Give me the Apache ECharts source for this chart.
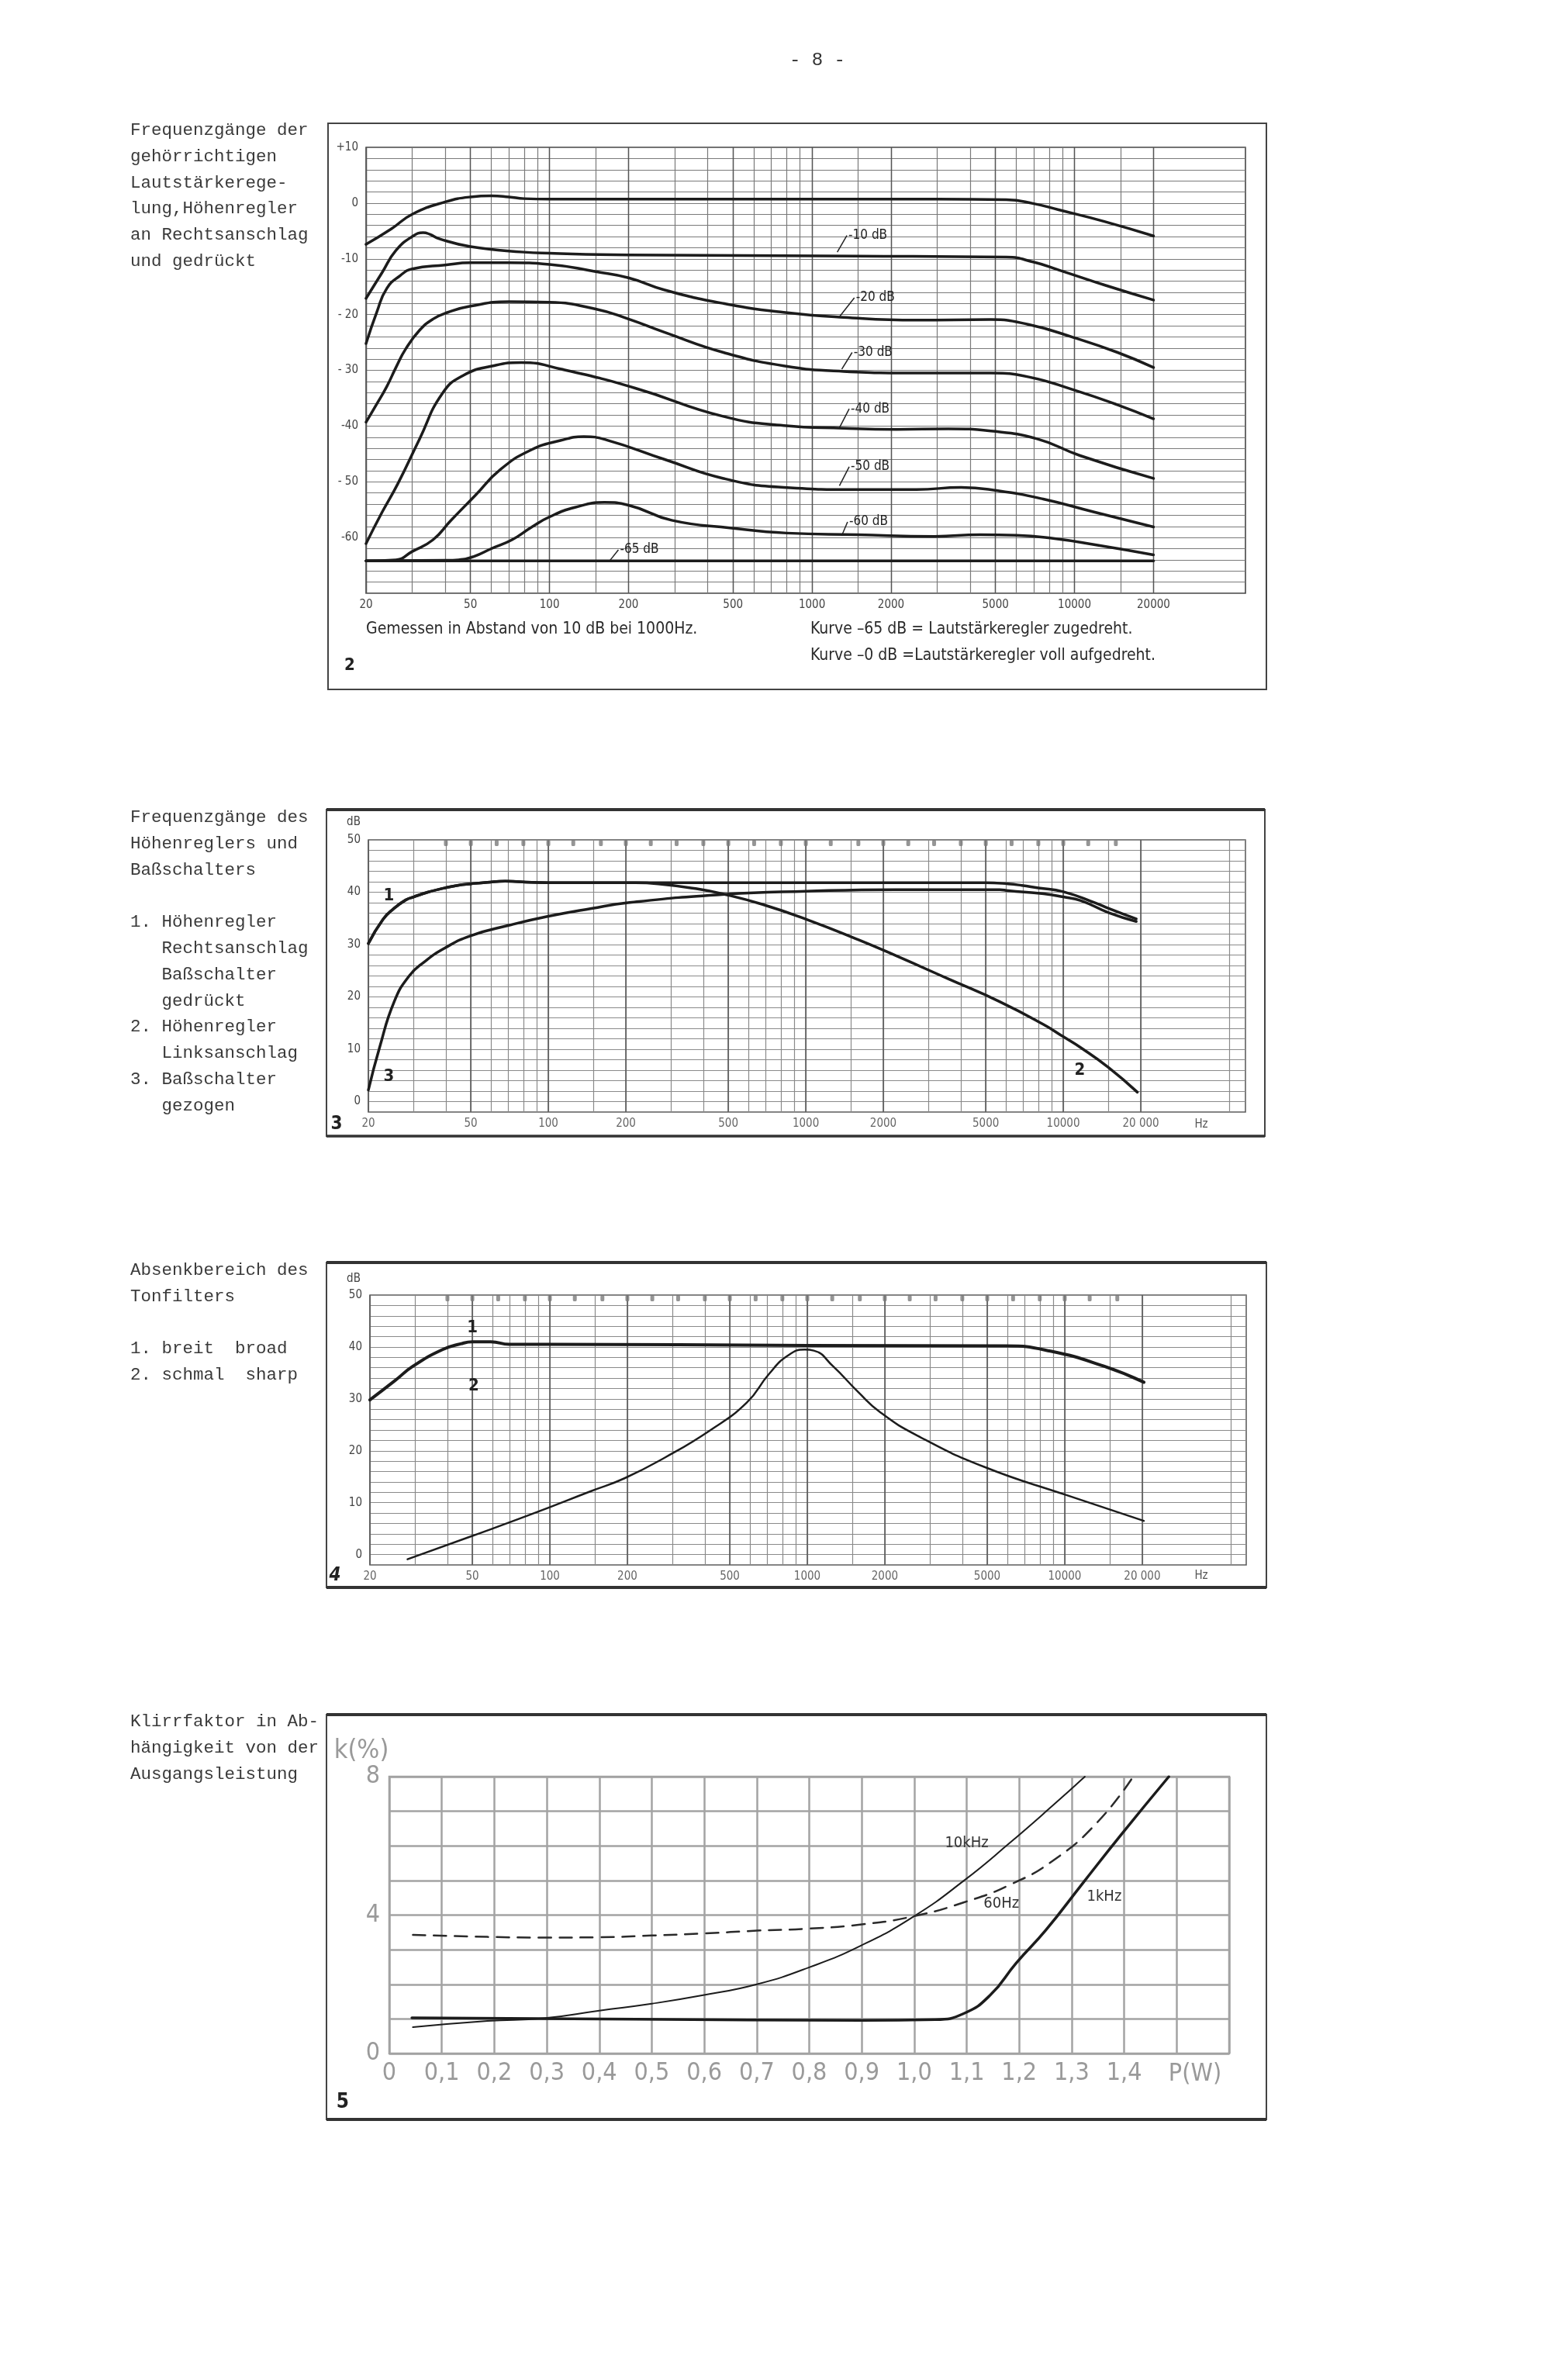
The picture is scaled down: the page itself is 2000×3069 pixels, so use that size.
<!DOCTYPE html>
<html>
<head>
<meta charset="utf-8">
<title>Seite 8</title>
<script src="https://cdn.jsdelivr.net/npm/echarts@6/dist/echarts.min.js"></script>
<style>
html, body { margin: 0; padding: 0; background: #fff; }
#page { width: 2000px; height: 3069px; }
</style>
</head>
<body>
<div id="page"></div>
<script>
// Bild 2 - gehoerrichtige Lautstaerkeregelung (Hz, dB)
var VOL_0 = [[20,-7.4],[25,-4.6],[30,-2.0],[40,0.2],[50,1.1],[60,1.3],[70,1.1],[80,0.8],[100,0.7],[1000,0.7],[3000,0.7],[5500,0.6],[7000,-0.1],[8700,-1.2],[13000,-3.3],[20000,-5.9]];
var VOL_10 = [[20,-17.1],[23,-12.5],[26,-8.5],[30,-6.0],[33,-5.3],[35,-5.6],[38,-6.4],[50,-7.8],[80,-8.8],[100,-9.0],[200,-9.3],[1500,-9.5],[5500,-9.7],[7000,-10.6],[8700,-12.0],[13000,-14.7],[20000,-17.4]];
var VOL_20 = [[20,-25.2],[22,-19.5],[24,-15.3],[27,-13.0],[30,-11.8],[40,-11.1],[50,-10.7],[70,-10.7],[100,-11.0],[150,-12.3],[200,-13.4],[275,-15.6],[460,-18.0],[780,-19.6],[1320,-20.5],[2500,-21.0],[4800,-20.9],[6700,-21.8],[9900,-24.1],[14600,-26.8],[20000,-29.5]];
var VOL_30 = [[20,-39.3],[22,-36.0],[24,-32.9],[26,-29.5],[28.3,-26.2],[32,-22.8],[36,-20.8],[41,-19.6],[50,-18.5],[70,-17.7],[100,-17.8],[150,-19.0],[200,-20.8],[275,-23.2],[460,-26.8],[780,-29.2],[1320,-30.2],[2500,-30.5],[4800,-30.5],[6700,-31.2],[9900,-33.5],[14600,-36.2],[20000,-38.7]];
var VOL_40 = [[20,-61.1],[23,-55.5],[26.4,-50.4],[32,-42.3],[39,-34.2],[47,-30.9],[61,-29.2],[78,-28.6],[111,-29.8],[212,-33.2],[462,-38.3],[781,-39.9],[1320,-40.4],[2100,-40.6],[3300,-40.5],[4800,-40.9],[7200,-42.3],[10500,-45.3],[20000,-49.4]];
var VOL_50 = [[20,-64.2],[26,-64.0],[30,-62.5],[36,-60.4],[42,-57.0],[52,-52.5],[65,-47.8],[85,-44.3],[110,-42.6],[135,-41.9],[165,-42.5],[275,-46.0],[460,-49.4],[780,-51.0],[1500,-51.4],[2500,-51.4],[3700,-51.0],[5100,-51.6],[7600,-53.1],[11800,-55.4],[20000,-58.1]];
var VOL_60 = [[20,-64.2],[40,-64.1],[45,-64.0],[51.5,-63.4],[60,-62.0],[72,-60.4],[85,-58.2],[100,-56.3],[125,-54.6],[162,-53.7],[200,-54.2],[292,-56.9],[494,-58.3],[800,-59.2],[1490,-59.5],[2930,-59.8],[4370,-59.5],[6000,-59.6],[8400,-60.2],[12000,-61.3],[20000,-63.1]];
var VOL_65 = [[20,-64.2],[20000,-64.2]];
var VOL_TAGS = ['-10 dB','-20 dB','-30 dB','-40 dB','-50 dB','-60 dB','-65 dB'];
var VOL_TAG_FROM = [[1248,-8.8],[1272,-20.4],[1298,-29.8],[1272,-40.3],[1272,-50.7],[1297,-59.7],[170,-64.1]];
var VOL_TAG_TO = [[1358,-5.8],[1450,-17.0],[1422,-26.8],[1386,-36.9],[1386,-47.3],[1366,-57.2],[183,-62.2]];

// Bild 3 - Hoehenregler und Bassschalter
var TREBLE_R = [[20,30.2],[22.8,34.8],[25,36.8],[27.9,38.5],[30,39.1],[34,40.0],[39.5,40.8],[44.4,41.3],[50,41.6],[58,41.9],[68,42.1],[86,41.9],[112,41.8],[500,41.8],[2000,41.8],[5000,41.8],[6100,41.6],[6900,41.3],[8000,40.8],[10000,40.1],[13400,37.9],[15000,36.9],[19200,34.9]];
var TREBLE_L = [[20,30.2],[22.8,34.8],[25,36.8],[27.9,38.5],[30,39.1],[34,40.0],[39.5,40.8],[44.4,41.3],[50,41.6],[58,41.9],[68,42.1],[86,41.9],[112,41.8],[218,41.8],[267,41.6],[372,40.7],[484,39.6],[676,37.7],[1007,34.8],[1603,30.9],[2233,27.9],[3557,23.5],[5660,19.1],[8400,14.7],[10000,12.4],[11700,10.3],[15000,6.5],[19400,1.8]];
var BASS_OFF = [[20,2.2],[22.1,10.3],[25.2,19.1],[28.8,24.0],[33,26.7],[39.5,29.3],[50,31.7],[70.6,33.7],[100,35.4],[147,36.9],[204,38.0],[484,39.6],[1007,40.2],[2233,40.5],[5660,40.5],[6100,40.3],[8400,39.7],[10000,39.1],[11700,38.4],[15000,36.1],[19200,34.4]];
var FIG3_TAGS = ['1','2','3'];
var FIG3_TAG_AT = [[24,39.3],[11600,6.0],[24,4.7]];

// Bild 4 - Tonfilter
var FILTER_BROAD = [[20,29.8],[25,33.5],[29.4,36.3],[38.3,39.5],[45,40.6],[50,41.0],[59,41.0],[69.6,40.5],[100,40.5],[1000,40.3],[5900,40.2],[8800,39.2],[14200,36.3],[20300,33.2]];
var FILTER_SHARP = [[28,-0.9],[50,3.6],[85,7.8],[144,12.2],[195,14.7],[280,18.7],[418,23.9],[582,29.3],[710,34.8],[838,38.3],[977,39.5],[1060,39.3],[1258,36.3],[1578,31.3],[1922,27.4],[2680,22.9],[4866,16.9],[10100,11.5],[20280,6.5]];
var FIG4_TAGS = ['1','2'];
var FIG4_TAG_AT = [[50,43.7],[50.6,32.5]];

// Terzmarken am oberen Rand des Registrierpapiers (Bild 3 und 4)
var THIRD_OCTAVE = [40,50,63,80,100,125,160,200,250,315,400,500,630,800,1000,1250,1600,2000,2500,3150,4000,5000,6300,8000,10000,12500,16000];

// Bild 5 - Klirrfaktor (P in W, k in %)
var K_10KHZ = [[0.045,0.76],[0.187,0.94],[0.294,1.02],[0.4,1.24],[0.5,1.44],[0.6,1.69],[0.7,2.0],[0.8,2.49],[0.9,3.13],[1.0,3.97],[1.095,5.0],[1.18,6.06],[1.265,7.18],[1.325,8.0]];
var K_60HZ = [[0.045,3.43],[0.187,3.37],[0.3,3.35],[0.4,3.36],[0.5,3.41],[0.6,3.47],[0.7,3.55],[0.8,3.61],[0.9,3.73],[1.0,3.97],[1.095,4.37],[1.18,4.86],[1.265,5.58],[1.35,6.70],[1.417,8.0]];
var K_1KHZ = [[0.043,1.03],[0.47,0.99],[0.9,0.96],[1.04,0.98],[1.095,1.16],[1.145,1.69],[1.194,2.61],[1.251,3.57],[1.322,4.94],[1.393,6.30],[1.485,8.0]];
var FIG5_TAGS = ['10kHz','60Hz','1kHz'];
var FIG5_TAG_AT = [[1.10,6.08],[1.166,4.33],[1.362,4.52]];

// Achsen
var FREQ_GRID = [20,30,40,50,60,70,80,90,100,150,200,300,400,500,600,700,800,900,1000,1500,2000,3000,4000,5000,6000,7000,8000,9000,10000,15000,20000];
var FREQ_GRID_STRIP = FREQ_GRID.concat([44100]);
var FREQ_MAJOR = [20,50,100,200,500,1000,2000,5000,10000,20000];
var FREQ_LABELS_2 = ['20','50','100','200','500','1000','2000','5000','10000','20000'];
var FREQ_LABELS_3 = ['20','50','100','200','500','1000','2000','5000','10000','20 000'];
var FREQ_LABELS_4 = ['20','50','100','200','500','1000','2000','5000','10000','20 000'];
var DB2_TICKS = [10,0,-10,-20,-30,-40,-50,-60];
var DB2_LABELS = ['+10','0','-10','- 20','- 30','-40','- 50','-60'];
var DB34_TICKS = [0,10,20,30,40,50];
var DB34_LABELS = ['0','10','20','30','40','50'];
var P_TICKS = [0,0.1,0.2,0.3,0.4,0.5,0.6,0.7,0.8,0.9,1.0,1.1,1.2,1.3,1.4];
var P_LABELS = ['0','0,1','0,2','0,3','0,4','0,5','0,6','0,7','0,8','0,9','1,0','1,1','1,2','1,3','1,4'];
var K_TICKS = [0,4,8];
var K_LABELS = ['0','4','8'];

var MONO = "'Liberation Mono','DejaVu Sans Mono',monospace";
var NARROW = "'Liberation Sans Narrow','DejaVu Sans Condensed','Liberation Sans',sans-serif";

function lookup(ticks, labels) {
  return function (v) {
    for (var i = 0; i < ticks.length; i++) {
      if (Math.abs(ticks[i] - v) < 1e-6 + Math.abs(ticks[i]) * 0.005) return labels[i];
    }
    return '';
  };
}

function freqAxis(g, max, grid, color, width, labels, labelColor) {
  return {
    type: 'log', logBase: 10, gridIndex: g, min: 20, max: max,
    axisLine: { show: false },
    axisTick: { show: false, customValues: grid },
    axisLabel: labels ? {
      customValues: FREQ_MAJOR, formatter: lookup(FREQ_MAJOR, labels),
      color: labelColor, fontSize: 15, fontFamily: NARROW, margin: 8
    } : { show: false },
    splitLine: { show: true, lineStyle: { color: color, width: width } }
  };
}

function dbAxis(g, min, max, ticks, labels, color) {
  return {
    type: 'value', gridIndex: g, min: min, max: max, interval: 2,
    axisLine: { show: false }, axisTick: { show: false },
    axisLabel: { customValues: ticks, formatter: lookup(ticks, labels), color: '#444', fontSize: 15, fontFamily: NARROW, margin: 10 },
    splitLine: { show: true, lineStyle: { color: color, width: 1.2 } }
  };
}

function curve(data, xi, yi, width, color, dash) {
  return {
    type: 'line', data: data, xAxisIndex: xi, yAxisIndex: yi,
    showSymbol: false, smooth: 0.5, silent: true,
    lineStyle: { color: color || '#1c1c1c', width: width, type: dash || 'solid', cap: 'round', join: 'round' },
    z: 5
  };
}

function notches(xi, yi) {
  return {
    type: 'scatter', xAxisIndex: xi, yAxisIndex: yi, silent: true,
    data: THIRD_OCTAVE.map(function (f) { return [f, 50]; }),
    symbol: 'roundRect', symbolSize: [5, 8], symbolOffset: [0, 4],
    itemStyle: { color: '#7a7a7a' }, z: 3
  };
}

function tagPoints(at, texts, font, align, weight, color, dx) {
  return {
    symbol: 'circle', symbolSize: 1, silent: true,
    itemStyle: { color: 'rgba(0,0,0,0)' },
    label: { show: true, position: 'inside', align: align, offset: [dx || 0, 0], color: color || '#222', fontSize: font, fontFamily: NARROW, fontWeight: weight || 'normal' },
    data: at.map(function (c, i) { return { coord: c, label: { formatter: texts[i] } }; })
  };
}

var vol65 = curve(VOL_65, 0, 0, 3.5);
vol65.markLine = {
  symbol: ['none', 'none'], silent: true, label: { show: false },
  lineStyle: { color: '#222', width: 1.5, type: 'solid' },
  data: VOL_TAG_FROM.map(function (c, i) { return [{ coord: c }, { coord: VOL_TAG_TO[i] }]; })
};
vol65.markPoint = tagPoints(VOL_TAG_TO, VOL_TAGS, 17, 'left', 'normal', '#222', 2);

var trebleL = curve(TREBLE_L, 2, 1, 3.5);
trebleL.markPoint = tagPoints(FIG3_TAG_AT, FIG3_TAGS, 22, 'center', 'bold');
var broad = curve(FILTER_BROAD, 4, 2, 4);
broad.markPoint = tagPoints(FIG4_TAG_AT, FIG4_TAGS, 22, 'center', 'bold');
var k1 = curve(K_1KHZ, 6, 3, 3.5);
k1.markPoint = tagPoints(FIG5_TAG_AT, FIG5_TAGS, 20, 'center', 'normal', '#333');

function txt(x, y, s, font, color, align) {
  return { type: 'text', x: x, y: y, silent: true,
    style: { text: s, font: font, fill: color || '#333', textAlign: align || 'left', align: align || 'left', textVerticalAlign: 'middle', verticalAlign: 'middle' } };
}
function hline(x1, x2, y, w, c) {
  return { type: 'line', silent: true, shape: { x1: x1, y1: y, x2: x2, y2: y }, style: { stroke: c || '#333', lineWidth: w } };
}
function frame(x, y, w, h, lw, c) {
  return { type: 'rect', silent: true, shape: { x: x, y: y, width: w, height: h }, style: { fill: 'none', stroke: c || '#444', lineWidth: lw } };
}

var graphics = [];
graphics.push(txt(1054, 78, '- 8 -', '24px ' + MONO, '#333', 'center'));
graphics.push(frame(423, 159, 1210, 730, 2));
graphics.push(frame(421, 1044, 1210, 421, 2));
graphics.push(hline(421, 1631, 1044, 4, '#333'));
graphics.push(hline(421, 1631, 1465, 3.5, '#333'));
graphics.push(frame(421, 1628, 1212, 419, 2));
graphics.push(hline(421, 1633, 1628, 4, '#333'));
graphics.push(hline(421, 1633, 2047, 4, '#333'));
graphics.push(frame(421, 2211, 1212, 522, 2));
graphics.push(hline(421, 1633, 2211, 4, '#333'));
graphics.push(hline(421, 1633, 2733, 4, '#333'));

var TEXT_1 = ['Frequenzgänge der', 'gehörrichtigen', 'Lautstärkerege-', 'lung,Höhenregler', 'an Rechtsanschlag', 'und gedrückt'];
var TEXT_2 = ['Frequenzgänge des', 'Höhenreglers und', 'Baßschalters', '', '1. Höhenregler', '   Rechtsanschlag', '   Baßschalter', '   gedrückt', '2. Höhenregler', '   Linksanschlag', '3. Baßschalter', '   gezogen'];
var TEXT_3 = ['Absenkbereich des', 'Tonfilters', '', '1. breit  broad', '2. schmal  sharp'];
var TEXT_4 = ['Klirrfaktor in Ab-', 'hängigkeit von der', 'Ausgangsleistung'];
function block(lines, y0) {
  lines.forEach(function (s, i) { if (s) graphics.push(txt(168, y0 + i * 33.8, s, '22.5px ' + MONO, '#3a3a3a')); });
}
block(TEXT_1, 168);
block(TEXT_2, 1054);
block(TEXT_3, 1638);
block(TEXT_4, 2220);

graphics.push(txt(472, 812, 'Gemessen in Abstand von 10 dB bei 1000Hz.', '21px ' + NARROW, '#2a2a2a'));
graphics.push(txt(1045, 812, 'Kurve \u201365 dB = Lautstärkeregler zugedreht.', '21px ' + NARROW, '#2a2a2a'));
graphics.push(txt(1045, 846, 'Kurve \u20130 dB =Lautstärkeregler voll aufgedreht.', '21px ' + NARROW, '#2a2a2a'));
graphics.push(txt(451, 858, '2', 'bold 22px ' + NARROW, '#222', 'center'));
graphics.push(txt(456, 1060, 'dB', '15px ' + NARROW, '#444', 'center'));
graphics.push(txt(1549, 1450, 'Hz', '15px ' + NARROW, '#555', 'center'));
graphics.push(txt(434, 1450, '3', 'bold 24px ' + NARROW, '#222', 'center'));
graphics.push(txt(456, 1649, 'dB', '15px ' + NARROW, '#444', 'center'));
graphics.push(txt(1549, 2032, 'Hz', '15px ' + NARROW, '#555', 'center'));
graphics.push(txt(432, 2032, '4', 'italic bold 24px ' + NARROW, '#222', 'center'));
graphics.push(txt(466, 2258, 'k(%)', '34px ' + NARROW, '#999', 'center'));
graphics.push(txt(1541, 2675, 'P(W)', '32px ' + NARROW, '#999', 'center'));
graphics.push(txt(442, 2711, '5', 'bold 26px ' + NARROW, '#222', 'center'));

var option = {
  animation: false,
  backgroundColor: '#fff',
  grid: [
    { left: 472, top: 190, width: 1134, height: 575, show: true, borderColor: '#3a3a3a', borderWidth: 1.5 },
    { left: 475, top: 1083, width: 1131, height: 351, show: true, borderColor: '#555', borderWidth: 1.5 },
    { left: 477, top: 1670, width: 1130, height: 348, show: true, borderColor: '#555', borderWidth: 1.5 },
    { left: 502, top: 2291, width: 1083, height: 357, show: true, borderColor: '#9a9a9a', borderWidth: 2.5 }
  ],
  xAxis: [
    freqAxis(0, 44800, FREQ_GRID, '#7a7a7a', 1.2, FREQ_LABELS_2, '#444'),
    freqAxis(0, 44800, FREQ_MAJOR, '#555', 1.4, null),
    freqAxis(1, 51000, FREQ_GRID_STRIP, '#8a8a8a', 1.2, FREQ_LABELS_3, '#666'),
    freqAxis(1, 51000, FREQ_MAJOR, '#5a5a5a', 1.6, null),
    freqAxis(2, 50700, FREQ_GRID_STRIP, '#8a8a8a', 1.2, FREQ_LABELS_4, '#666'),
    freqAxis(2, 50700, FREQ_MAJOR, '#5a5a5a', 1.6, null),
    {
      type: 'value', gridIndex: 3, min: 0, max: 1.6, interval: 0.1,
      axisLine: { show: false }, axisTick: { show: false },
      axisLabel: { customValues: P_TICKS, formatter: lookup(P_TICKS, P_LABELS), color: '#9a9a9a', fontSize: 32, fontFamily: NARROW, margin: 10 },
      splitLine: { show: true, lineStyle: { color: '#a3a3a3', width: 2.5 } }
    }
  ],
  yAxis: [
    dbAxis(0, -70, 10, DB2_TICKS, DB2_LABELS, '#7a7a7a'),
    dbAxis(1, -2, 50, DB34_TICKS, DB34_LABELS, '#8a8a8a'),
    dbAxis(2, -2, 50, DB34_TICKS, DB34_LABELS, '#8a8a8a'),
    {
      type: 'value', gridIndex: 3, min: 0, max: 8, interval: 1,
      axisLine: { show: false }, axisTick: { show: false },
      axisLabel: { customValues: K_TICKS, formatter: lookup(K_TICKS, K_LABELS), color: '#9a9a9a', fontSize: 32, fontFamily: NARROW, margin: 12 },
      splitLine: { show: true, lineStyle: { color: '#a3a3a3', width: 2.5 } }
    }
  ],
  graphic: graphics,
  series: [
    curve(VOL_0, 0, 0, 3.5),
    curve(VOL_10, 0, 0, 3.5),
    curve(VOL_20, 0, 0, 3.5),
    curve(VOL_30, 0, 0, 3.5),
    curve(VOL_40, 0, 0, 3.5),
    curve(VOL_50, 0, 0, 3.5),
    curve(VOL_60, 0, 0, 3.5),
    vol65,
    notches(2, 1),
    curve(TREBLE_R, 2, 1, 3.5),
    trebleL,
    curve(BASS_OFF, 2, 1, 3.5),
    notches(4, 2),
    broad,
    curve(FILTER_SHARP, 4, 2, 2.5),
    curve(K_10KHZ, 6, 3, 2),
    curve(K_60HZ, 6, 3, 2.5, '#2a2a2a', [16, 11]),
    k1
  ]
};

var chart = echarts.init(document.getElementById('page'), null, { renderer: 'canvas', width: 2000, height: 3069 });
chart.setOption(option);
</script>
</body>
</html>
